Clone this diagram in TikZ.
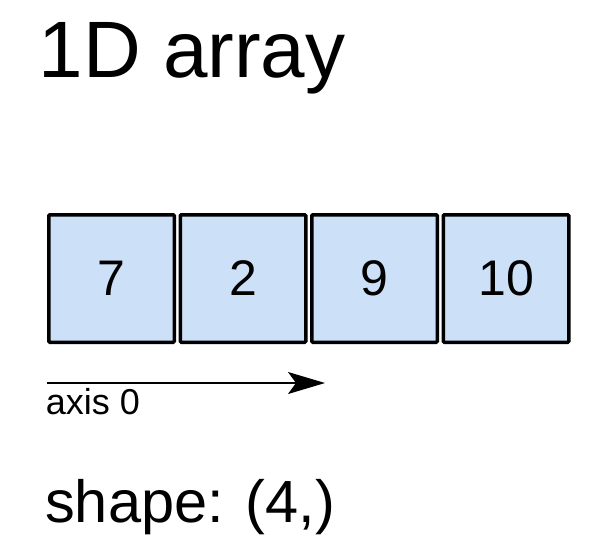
\documentclass[tikz,border=0pt]{standalone}
\usepackage{fontspec}
\setmainfont{Liberation Sans}
\usetikzlibrary{arrows.meta}
\definecolor{cellfill}{HTML}{CCE0F8}
\begin{document}
\begin{tikzpicture}[x=1pt,y=-1pt,
  cell/.style={draw=black,fill=cellfill,line width=3.5pt,rounded corners=1pt,minimum width=125.5pt,minimum height=127.5pt,inner sep=0pt,font=\fontsize{50}{50}\selectfont},
  lbl/.style={inner sep=0pt,anchor=base west}]
\useasboundingbox (0,0) rectangle (601,557);
\node[lbl,font=\fontsize{80}{80}\selectfont] (title) at (38.5,77) {1D array};
\foreach \v [count=\i from 0] in {7,2,9,10} {
  \node[cell] (c\i) at (111.5+131.5*\i,278.5) {\v};
}
\coordinate (a0) at (47,383);
\coordinate (a1) at (325,383);
\draw[line width=1.3pt,-{Stealth[length=37pt,width=22pt,inset=8pt]}] (a0) -- (a1);
\node[lbl,font=\fontsize{36}{36}\selectfont] (axis) at (45.7,414) {axis 0};
\node[lbl,font=\fontsize{59.5}{59.5}\selectfont] (shape) at (45,522) {shape: (4,)};
\end{tikzpicture}
\end{document}
